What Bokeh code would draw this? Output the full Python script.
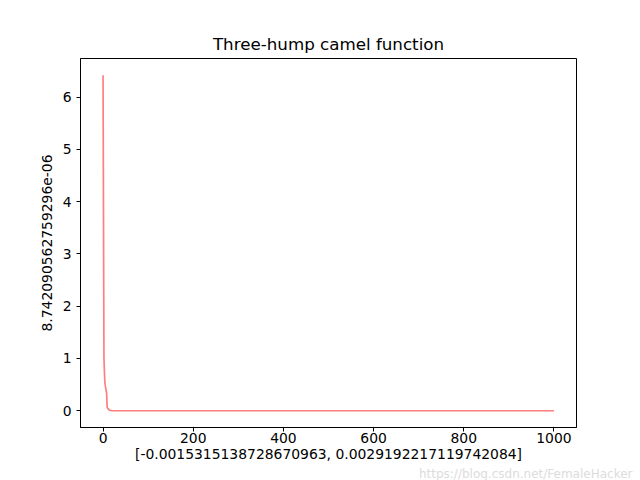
from bokeh.plotting import figure
from bokeh.models import Range1d, FixedTicker, Title
from bokeh.embed import file_html
from bokeh.resources import INLINE

# data
iterations = [0, 2, 3, 4, 5, 8, 9, 11, 12, 14, 17, 20, 1000]
values = [6.42, 1.02, 0.75, 0.55, 0.48, 0.33, 0.07, 0.04, 0.03, 0.01, 0.005, 0.0, 0.0]
x_ticks = [0, 200, 400, 600, 800, 1000]
y_ticks = [0, 1, 2, 3, 4, 5, 6]
title_text = "Three-hump camel function"
x_label = "[-0.0015315138728670963, 0.0029192217119742084]"
y_label = "8.742090562759296e-06"
watermark = "https://blog.csdn.net/FemaleHacker"

FONT = "DejaVu Sans"

p = figure(width=640, height=480, output_backend="svg", toolbar_location=None,
           x_range=Range1d(-50, 1050), y_range=Range1d(-0.321, 6.741),
           min_border_left=80, min_border_right=64, min_border_top=58, min_border_bottom=0)

p.line(iterations, values, line_color="red", line_alpha=0.5, line_width=1.7)

p.title.text = title_text
p.title.align = "center"
p.title.text_font = FONT
p.title.text_font_size = "16.7px"
p.title.text_font_style = "normal"
p.title.text_color = "black"

p.xgrid.visible = False
p.ygrid.visible = False
p.outline_line_color = "black"
p.outline_line_width = 1

for ax in (p.xaxis[0], p.yaxis[0]):
    ax.major_tick_in = 0
    ax.major_tick_out = 4
    ax.minor_tick_in = 0
    ax.minor_tick_out = 0
    ax.axis_line_color = "black"
    ax.major_tick_line_color = "black"
    ax.major_label_text_font = FONT
    ax.major_label_text_font_size = "13.9px"
    ax.major_label_text_color = "black"
    ax.axis_label_text_font = FONT
    ax.axis_label_text_font_size = "13.9px"
    ax.axis_label_text_font_style = "normal"
    ax.axis_label_text_color = "black"

p.xaxis.ticker = FixedTicker(ticks=x_ticks)
p.yaxis.ticker = FixedTicker(ticks=y_ticks)
p.xaxis.axis_label = x_label
p.yaxis.axis_label = y_label
p.xaxis.axis_label_standoff = 0
p.xaxis.major_label_standoff = 1
p.yaxis.axis_label_standoff = 8

wm = Title(text=watermark, align="right", text_font=FONT, text_font_size="12px",
           text_font_style="normal", text_color="#dcdcdc", standoff=0, offset=-56)
p.add_layout(wm, "below")

open("out.html", "w").write(file_html(p, INLINE))
